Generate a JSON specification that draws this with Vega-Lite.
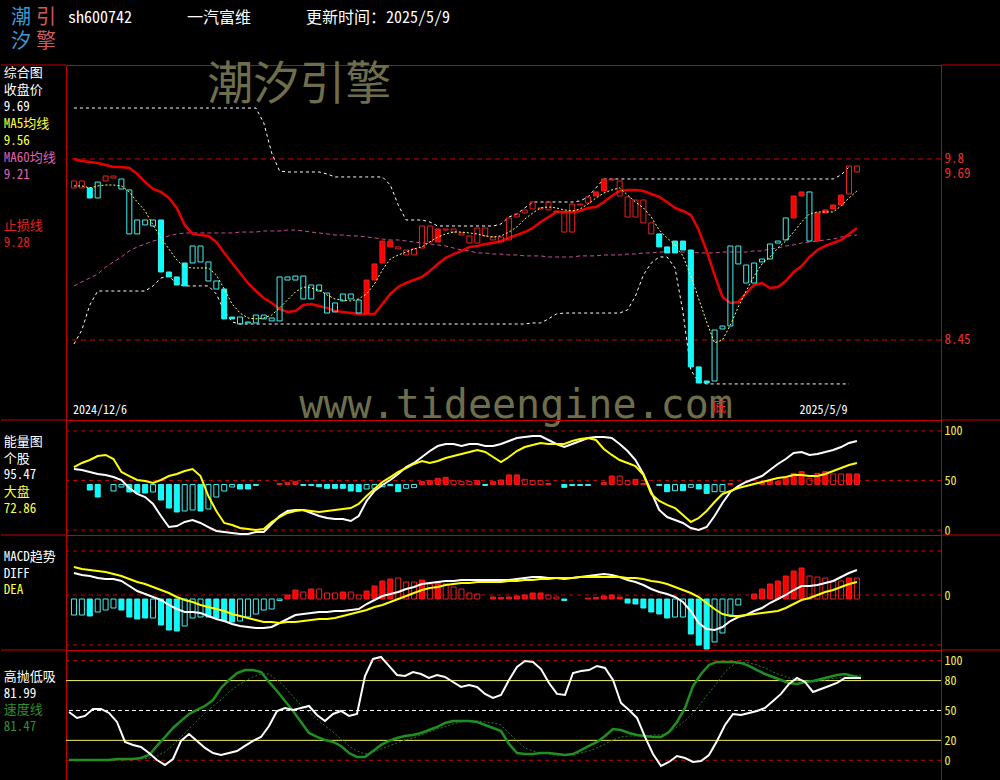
{
"$schema":"https://vega.github.io/schema/vega-lite/v6.json",
"background":"#000000",
"padding":0,
"spacing":0,
"bounds":"flush",
"columns":3,
"resolve":{"scale":{"x":"independent","y":"independent","color":"independent"}},
"config":{
 "view":{"stroke":"#c80000","strokeWidth":1},
 "axis":{"grid":false,"ticks":false,"domain":false,"labelFont":"Noto Sans Mono CJK SC, Noto Sans CJK SC, DejaVu Sans Mono","labelFontSize":13,"labelPadding":3,"labelExpr":"'' + datum.value","labelOverlap":false,"labelFlush":false,"labelBaseline":"middle","labelAlign":"left"},
 "text":{"font":"Noto Sans Mono CJK SC, Noto Sans CJK SC, DejaVu Sans Mono"},
 "concat":{"spacing":0}
},
"datasets":{
"head":[
 {"kind":"logo","t":"潮","col":"a","row":1},
 {"kind":"logo","t":"引","col":"b","row":1},
 {"kind":"logo","t":"汐","col":"a","row":2},
 {"kind":"logo","t":"擎","col":"b","row":2},
 {"kind":"info","t":"sh600742","col":"code","row":1},
 {"kind":"info","t":"一汽富维","col":"name","row":1},
 {"kind":"info","t":"更新时间：2025/5/9","col":"time","row":1}
],
"labels":[
 {"panel":1,"line":1,"t":"综合图","role":"head"},
 {"panel":1,"line":2,"t":"收盘价","role":"close"},
 {"panel":1,"line":3,"t":"9.69","role":"close"},
 {"panel":1,"line":4,"t":"MA5均线","role":"ma5"},
 {"panel":1,"line":5,"t":"9.56","role":"ma5"},
 {"panel":1,"line":6,"t":"MA60均线","role":"ma60"},
 {"panel":1,"line":7,"t":"9.21","role":"ma60"},
 {"panel":1,"line":10,"t":"止损线","role":"stop"},
 {"panel":1,"line":11,"t":"9.28","role":"stop"},
 {"panel":2,"line":1,"t":"能量图","role":"head"},
 {"panel":2,"line":2,"t":"个股","role":"stock"},
 {"panel":2,"line":3,"t":"95.47","role":"stock"},
 {"panel":2,"line":4,"t":"大盘","role":"market"},
 {"panel":2,"line":5,"t":"72.86","role":"market"},
 {"panel":3,"line":1,"t":"MACD趋势","role":"head"},
 {"panel":3,"line":2,"t":"DIFF","role":"diff"},
 {"panel":3,"line":3,"t":"DEA","role":"dea"},
 {"panel":4,"line":1,"t":"高抛低吸","role":"hl"},
 {"panel":4,"line":2,"t":"81.99","role":"hl"},
 {"panel":4,"line":3,"t":"速度线","role":"speed"},
 {"panel":4,"line":4,"t":"81.47","role":"speed"}
],
"k":[
{"i":0,"o":9.584,"c":9.636,"s":0,"m5":9.599,"m60":8.853,"st":9.8,"up":10.18,"dn":8.42,"ew":61.6,"ey":63.6,"ev":null,"es":0,"df":0.11,"de":0.14,"mv":-0.1,"ms":0,"hw":48.5,"hg":0.3,"hs":0.3},
{"i":1,"o":9.584,"c":9.636,"s":0,"m5":9.599,"m60":8.883,"st":9.785,"up":10.18,"dn":8.524,"ew":60.6,"ey":67.7,"ev":null,"es":0,"df":0.1,"de":0.13,"mv":-0.1,"ms":0,"hw":42.5,"hg":0.3,"hs":0.3},
{"i":2,"o":9.584,"c":9.509,"s":1,"m5":9.584,"m60":8.912,"st":9.778,"up":10.18,"dn":8.711,"ew":58.6,"ey":70.7,"ev":40.4,"es":1,"df":0.095,"de":0.125,"mv":-0.105,"ms":1,"hw":44.5,"hg":0.3,"hs":0.3},
{"i":3,"o":9.628,"c":9.509,"s":0,"m5":9.599,"m60":8.942,"st":9.77,"up":10.18,"dn":8.815,"ew":56.6,"ey":74.7,"ev":33.3,"es":1,"df":0.085,"de":0.12,"mv":-0.085,"ms":0,"hw":51.5,"hg":0.3,"hs":0.3},
{"i":4,"o":9.636,"c":9.673,"s":0,"m5":9.606,"m60":8.994,"st":9.755,"up":10.18,"dn":8.815,"ew":55.6,"ey":75.8,"ev":null,"es":0,"df":0.08,"de":0.115,"mv":-0.075,"ms":0,"hw":51.5,"hg":0.3,"hs":0.3},
{"i":5,"o":9.658,"c":9.673,"s":0,"m5":9.606,"m60":9.032,"st":9.74,"up":10.18,"dn":8.815,"ew":53.5,"ey":71.7,"ev":39.4,"es":0,"df":0.08,"de":0.105,"mv":-0.065,"ms":0,"hw":47.5,"hg":0.3,"hs":0.3},
{"i":6,"o":9.651,"c":9.576,"s":0,"m5":9.599,"m60":9.069,"st":9.74,"up":10.18,"dn":8.815,"ew":50.5,"ey":58.6,"ev":43.4,"es":0,"df":0.07,"de":0.095,"mv":-0.075,"ms":1,"hw":38.5,"hg":1.3,"hs":0.3},
{"i":7,"o":9.569,"c":9.241,"s":0,"m5":9.554,"m60":9.114,"st":9.733,"up":10.18,"dn":8.815,"ew":42.4,"ey":54.5,"ev":38.4,"es":1,"df":0.045,"de":0.08,"mv":-0.11,"ms":1,"hw":18.4,"hg":1.3,"hs":0.3},
{"i":8,"o":9.345,"c":9.241,"s":0,"m5":9.479,"m60":9.144,"st":9.688,"up":10.18,"dn":8.815,"ew":36.4,"ey":50.5,"ev":37.4,"es":1,"df":0.02,"de":0.065,"mv":-0.12,"ms":1,"hw":15.4,"hg":1.3,"hs":1.3},
{"i":9,"o":9.345,"c":9.308,"s":0,"m5":9.412,"m60":9.166,"st":9.628,"up":10.18,"dn":8.815,"ew":33.3,"ey":49.5,"ev":37.4,"es":1,"df":0.005,"de":0.055,"mv":-0.115,"ms":1,"hw":13.4,"hg":2.3,"hs":1.3},
{"i":10,"o":9.345,"c":9.3,"s":0,"m5":9.308,"m60":9.188,"st":9.576,"up":10.18,"dn":8.853,"ew":26.3,"ey":47.5,"ev":38.4,"es":0,"df":-0.01,"de":0.04,"mv":-0.115,"ms":0,"hw":7.3,"hg":5.3,"hs":2.3},
{"i":11,"o":9.345,"c":8.957,"s":1,"m5":9.211,"m60":9.203,"st":9.554,"up":10.18,"dn":8.912,"ew":14.1,"ey":50.5,"ev":30.3,"es":1,"df":-0.025,"de":0.025,"mv":-0.15,"ms":1,"hw":0.3,"hg":14.4,"hs":4.3},
{"i":12,"o":8.957,"c":8.92,"s":1,"m5":9.129,"m60":9.226,"st":9.509,"up":10.18,"dn":8.927,"ew":3.0,"ey":54.5,"ev":22.2,"es":1,"df":-0.05,"de":0.01,"mv":-0.175,"ms":1,"hw":-4.7,"hg":23.4,"hs":8.3},
{"i":13,"o":8.92,"c":8.86,"s":1,"m5":9.047,"m60":9.241,"st":9.435,"up":10.18,"dn":8.868,"ew":4.0,"ey":56.6,"ev":18.2,"es":1,"df":-0.07,"de":-0.01,"mv":-0.18,"ms":1,"hw":1.3,"hg":32.4,"hs":15.4},
{"i":14,"o":9.024,"c":8.853,"s":1,"m5":8.994,"m60":9.248,"st":9.308,"up":10.18,"dn":8.853,"ew":8.1,"ey":59.6,"ev":19.2,"es":0,"df":-0.085,"de":-0.025,"mv":-0.155,"ms":0,"hw":19.4,"hg":39.5,"hs":23.4},
{"i":15,"o":9.151,"c":9.024,"s":0,"m5":8.987,"m60":9.248,"st":9.241,"up":10.18,"dn":8.853,"ew":10.1,"ey":61.6,"ev":20.2,"es":0,"df":-0.085,"de":-0.035,"mv":-0.115,"ms":0,"hw":26.4,"hg":46.5,"hs":31.4},
{"i":16,"o":9.151,"c":9.032,"s":0,"m5":8.987,"m60":9.248,"st":9.233,"up":10.18,"dn":8.853,"ew":7.1,"ey":54.5,"ev":19.2,"es":1,"df":-0.09,"de":-0.05,"mv":-0.11,"ms":0,"hw":19.4,"hg":50.5,"hs":39.5},
{"i":17,"o":9.032,"c":8.89,"s":0,"m5":8.987,"m60":9.248,"st":9.226,"up":10.18,"dn":8.853,"ew":3.0,"ey":34.3,"ev":21.2,"es":0,"df":-0.105,"de":-0.06,"mv":-0.11,"ms":1,"hw":12.4,"hg":54.5,"hs":47.5},
{"i":18,"o":8.89,"c":8.83,"s":0,"m5":8.935,"m60":9.248,"st":9.181,"up":10.18,"dn":8.793,"ew":-1.0,"ey":19.2,"ev":33.3,"es":0,"df":-0.12,"de":-0.07,"mv":-0.115,"ms":1,"hw":7.3,"hg":60.5,"hs":54.5},
{"i":19,"o":8.83,"c":8.607,"s":1,"m5":8.83,"m60":9.248,"st":9.099,"up":10.18,"dn":8.666,"ew":-2.0,"ey":7.1,"ev":39.4,"es":0,"df":-0.13,"de":-0.08,"mv":-0.13,"ms":1,"hw":5.3,"hg":72.6,"hs":60.5},
{"i":20,"o":8.621,"c":8.607,"s":1,"m5":8.718,"m60":9.248,"st":9.024,"up":10.18,"dn":8.584,"ew":-3.0,"ey":5.1,"ev":43.4,"es":0,"df":-0.145,"de":-0.095,"mv":-0.135,"ms":1,"hw":7.3,"hg":80.6,"hs":68.6},
{"i":21,"o":8.621,"c":8.569,"s":0,"m5":8.651,"m60":9.255,"st":8.95,"up":10.18,"dn":8.569,"ew":-4.0,"ey":2.0,"ev":41.4,"es":1,"df":-0.155,"de":-0.105,"mv":-0.13,"ms":0,"hw":9.3,"hg":87.6,"hs":74.6},
{"i":22,"o":8.584,"c":8.577,"s":0,"m5":8.614,"m60":9.255,"st":8.875,"up":10.18,"dn":8.569,"ew":-4.0,"ey":1.0,"ev":41.4,"es":1,"df":-0.16,"de":-0.115,"mv":-0.11,"ms":0,"hw":14.4,"hg":90.6,"hs":79.6},
{"i":23,"o":8.636,"c":8.577,"s":0,"m5":8.607,"m60":9.255,"st":8.815,"up":10.18,"dn":8.569,"ew":-2.0,"ey":0,"ev":45,"es":1,"df":-0.165,"de":-0.125,"mv":-0.095,"ms":0,"hw":19.4,"hg":90.6,"hs":83.6},
{"i":24,"o":8.636,"c":8.607,"s":0,"m5":8.614,"m60":9.263,"st":8.763,"up":10.069,"dn":8.569,"ew":-2.0,"ey":1.0,"ev":null,"es":0,"df":-0.165,"de":-0.135,"mv":-0.075,"ms":0,"hw":23.4,"hg":88.6,"hs":86.6},
{"i":25,"o":8.614,"c":8.592,"s":0,"m5":8.636,"m60":9.263,"st":8.726,"up":9.845,"dn":8.569,"ew":6.1,"ey":8.1,"ev":null,"es":0,"df":-0.16,"de":-0.135,"mv":-0.07,"ms":0,"hw":34.4,"hg":78.6,"hs":86.6},
{"i":26,"o":8.92,"c":8.592,"s":0,"m5":8.689,"m60":9.263,"st":8.681,"up":9.71,"dn":8.569,"ew":14.1,"ey":13.1,"ev":47,"es":1,"df":-0.14,"de":-0.14,"mv":-0.028,"ms":0,"hw":49.5,"hg":69.6,"hs":80.6},
{"i":27,"o":8.92,"c":8.897,"s":0,"m5":8.748,"m60":9.27,"st":8.659,"up":9.703,"dn":8.569,"ew":19.2,"ey":17.2,"ev":47.8,"es":1,"df":-0.12,"de":-0.135,"mv":0.0,"ms":1,"hw":52.5,"hg":59.5,"hs":73.6},
{"i":28,"o":8.927,"c":8.897,"s":0,"m5":8.808,"m60":9.27,"st":8.666,"up":9.703,"dn":8.569,"ew":20.2,"ey":19.2,"ev":48.8,"es":1,"df":-0.1,"de":-0.135,"mv":0.025,"ms":1,"hw":50.5,"hg":49.5,"hs":63.6},
{"i":29,"o":8.927,"c":8.756,"s":0,"m5":8.845,"m60":9.263,"st":8.711,"up":9.703,"dn":8.569,"ew":20.2,"ey":20.2,"ev":45,"es":1,"df":-0.095,"de":-0.13,"mv":0.015,"ms":0,"hw":52.5,"hg":38.5,"hs":55.5},
{"i":30,"o":8.86,"c":8.756,"s":0,"m5":8.838,"m60":9.255,"st":8.718,"up":9.703,"dn":8.569,"ew":17.2,"ey":19.2,"ev":45,"es":1,"df":-0.09,"de":-0.125,"mv":0.03,"ms":1,"hw":54.5,"hg":27.4,"hs":48.5},
{"i":31,"o":8.86,"c":8.815,"s":0,"m5":8.823,"m60":9.248,"st":8.704,"up":9.703,"dn":8.569,"ew":14.1,"ey":18.2,"ev":43.7,"es":1,"df":-0.085,"de":-0.12,"mv":0.03,"ms":0,"hw":45.5,"hg":23.4,"hs":41.5},
{"i":32,"o":8.8,"c":8.651,"s":0,"m5":8.786,"m60":9.241,"st":8.689,"up":9.688,"dn":8.569,"ew":12.1,"ey":19.2,"ev":42.1,"es":1,"df":-0.085,"de":-0.12,"mv":0.01,"ms":0,"hw":39.5,"hg":20.4,"hs":34.4},
{"i":33,"o":8.726,"c":8.659,"s":0,"m5":8.756,"m60":9.233,"st":8.666,"up":9.666,"dn":8.569,"ew":11.1,"ey":20.2,"ev":42.1,"es":1,"df":-0.08,"de":-0.115,"mv":0.01,"ms":0,"hw":46.5,"hg":18.4,"hs":28.4},
{"i":34,"o":8.793,"c":8.741,"s":0,"m5":8.748,"m60":9.233,"st":8.659,"up":9.666,"dn":8.569,"ew":11.1,"ey":21.2,"ev":42.1,"es":1,"df":-0.08,"de":-0.105,"mv":0.015,"ms":1,"hw":49.5,"hg":14.4,"hs":21.4},
{"i":35,"o":8.793,"c":8.756,"s":0,"m5":8.741,"m60":9.226,"st":8.651,"up":9.666,"dn":8.569,"ew":9.1,"ey":22.2,"ev":39.4,"es":1,"df":-0.075,"de":-0.095,"mv":0.015,"ms":0,"hw":44.5,"hg":7.3,"hs":14.4},
{"i":36,"o":8.748,"c":8.651,"s":0,"m5":8.756,"m60":9.226,"st":8.644,"up":9.666,"dn":8.569,"ew":14.1,"ey":26.3,"ev":38.7,"es":1,"df":-0.07,"de":-0.085,"mv":0.0,"ms":0,"hw":46.5,"hg":3.3,"hs":9.3},
{"i":37,"o":8.651,"c":8.897,"s":1,"m5":8.793,"m60":9.218,"st":8.644,"up":9.666,"dn":8.569,"ew":29.3,"ey":34.3,"ev":41.4,"es":0,"df":-0.045,"de":-0.075,"mv":0.02,"ms":1,"hw":84.6,"hg":3.3,"hs":6.3},
{"i":38,"o":8.897,"c":9.017,"s":1,"m5":8.868,"m60":9.211,"st":8.644,"up":9.666,"dn":8.569,"ew":39.4,"ey":41.4,"ev":42.1,"es":0,"df":-0.025,"de":-0.06,"mv":0.045,"ms":1,"hw":101.7,"hg":9.3,"hs":8.3},
{"i":39,"o":9.024,"c":9.188,"s":1,"m5":8.972,"m60":9.203,"st":8.718,"up":9.666,"dn":8.569,"ew":45.5,"ey":48.5,"ev":43.7,"es":0,"df":-0.005,"de":-0.05,"mv":0.07,"ms":1,"hw":103.7,"hg":15.4,"hs":11.3},
{"i":40,"o":9.144,"c":9.188,"s":1,"m5":9.054,"m60":9.196,"st":8.793,"up":9.606,"dn":8.569,"ew":50.5,"ey":53.5,"ev":44.8,"es":1,"df":0.005,"de":-0.035,"mv":0.08,"ms":1,"hw":94.7,"hg":19.4,"hs":14.4},
{"i":41,"o":9.129,"c":9.144,"s":0,"m5":9.084,"m60":9.196,"st":8.845,"up":9.457,"dn":8.569,"ew":56.6,"ey":58.6,"ev":38.7,"es":1,"df":0.015,"de":-0.02,"mv":0.085,"ms":0,"hw":85.6,"hg":22.4,"hs":17.4},
{"i":42,"o":9.084,"c":9.121,"s":0,"m5":9.106,"m60":9.188,"st":8.875,"up":9.345,"dn":8.569,"ew":63.6,"ey":62.6,"ev":42.1,"es":0,"df":0.03,"de":-0.005,"mv":0.065,"ms":0,"hw":84.6,"hg":24.4,"hs":20.4},
{"i":43,"o":9.084,"c":9.129,"s":0,"m5":9.129,"m60":9.181,"st":8.897,"up":9.345,"dn":8.569,"ew":67.7,"ey":66.7,"ev":42.8,"es":0,"df":0.04,"de":0.01,"mv":0.065,"ms":0,"hw":88.6,"hg":25.4,"hs":22.4},
{"i":44,"o":9.136,"c":9.3,"s":0,"m5":9.144,"m60":9.173,"st":8.92,"up":9.345,"dn":8.569,"ew":73.7,"ey":69.7,"ev":48.8,"es":1,"df":0.055,"de":0.025,"mv":0.075,"ms":1,"hw":86.6,"hg":27.4,"hs":25.4},
{"i":45,"o":9.181,"c":9.3,"s":0,"m5":9.181,"m60":9.166,"st":8.965,"up":9.33,"dn":8.569,"ew":79.8,"ey":67.7,"ev":49.8,"es":1,"df":0.06,"de":0.035,"mv":0.055,"ms":0,"hw":82.6,"hg":30.4,"hs":28.4},
{"i":46,"o":9.181,"c":9.278,"s":1,"m5":9.218,"m60":9.159,"st":9.017,"up":9.3,"dn":8.569,"ew":84.8,"ey":69.7,"ev":52.2,"es":1,"df":0.065,"de":0.04,"mv":0.065,"ms":1,"hw":85.6,"hg":33.4,"hs":31.4},
{"i":47,"o":9.27,"c":9.278,"s":0,"m5":9.241,"m60":9.151,"st":9.062,"up":9.3,"dn":8.569,"ew":86.9,"ey":72.7,"ev":53.2,"es":1,"df":0.07,"de":0.05,"mv":0.055,"ms":0,"hw":83.6,"hg":37.5,"hs":33.4},
{"i":48,"o":9.255,"c":9.278,"s":0,"m5":9.255,"m60":9.136,"st":9.091,"up":9.3,"dn":8.569,"ew":86.9,"ey":74.7,"ev":49.8,"es":0,"df":0.07,"de":0.055,"mv":0.04,"ms":0,"hw":78.6,"hg":39.5,"hs":36.5},
{"i":49,"o":9.233,"c":9.248,"s":0,"m5":9.255,"m60":9.121,"st":9.114,"up":9.3,"dn":8.569,"ew":84.8,"ey":76.8,"ev":48.8,"es":0,"df":0.075,"de":0.06,"mv":0.03,"ms":0,"hw":73.6,"hg":39.5,"hs":38.5},
{"i":50,"o":9.173,"c":9.226,"s":0,"m5":9.248,"m60":9.114,"st":9.144,"up":9.3,"dn":8.569,"ew":86.9,"ey":78.8,"ev":48.8,"es":0,"df":0.075,"de":0.06,"mv":0.01,"ms":0,"hw":75.6,"hg":39.5,"hs":39.5},
{"i":51,"o":9.173,"c":9.285,"s":0,"m5":9.241,"m60":9.099,"st":9.151,"up":9.3,"dn":8.569,"ew":86.9,"ey":80.8,"ev":49.8,"es":1,"df":0.075,"de":0.065,"mv":0.005,"ms":0,"hw":73.6,"hg":38.5,"hs":39.5},
{"i":52,"o":9.226,"c":9.285,"s":0,"m5":9.226,"m60":9.099,"st":9.166,"up":9.3,"dn":8.569,"ew":84.8,"ey":78.8,"ev":45,"es":1,"df":0.075,"de":0.065,"mv":null,"ms":0,"hw":66.6,"hg":35.4,"hs":38.5},
{"i":53,"o":9.196,"c":9.218,"s":0,"m5":9.218,"m60":9.091,"st":9.173,"up":9.3,"dn":8.569,"ew":84.8,"ey":73.7,"ev":48.8,"es":1,"df":0.075,"de":0.065,"mv":-0.01,"ms":1,"hw":62.6,"hg":32.4,"hs":37.5},
{"i":54,"o":9.181,"c":9.218,"s":0,"m5":9.226,"m60":9.091,"st":9.188,"up":9.315,"dn":8.569,"ew":86.9,"ey":68.7,"ev":50.5,"es":1,"df":0.075,"de":0.065,"mv":-0.012,"ms":1,"hw":65.6,"hg":29.4,"hs":35.4},
{"i":55,"o":9.196,"c":9.36,"s":0,"m5":9.255,"m60":9.084,"st":9.211,"up":9.367,"dn":8.569,"ew":89.9,"ey":73.7,"ev":55.6,"es":1,"df":0.075,"de":0.07,"mv":-0.01,"ms":1,"hw":80.6,"hg":16.4,"hs":27.4},
{"i":56,"o":9.367,"c":9.39,"s":0,"m5":9.293,"m60":9.084,"st":9.233,"up":9.39,"dn":8.569,"ew":92.9,"ey":79.8,"ev":55.6,"es":1,"df":0.08,"de":0.07,"mv":-0.005,"ms":1,"hw":93.7,"hg":7.3,"hs":19.4},
{"i":57,"o":9.397,"c":9.42,"s":0,"m5":9.352,"m60":9.077,"st":9.255,"up":9.435,"dn":8.569,"ew":93.9,"ey":83.8,"ev":51.2,"es":0,"df":0.085,"de":0.075,"mv":0.0,"ms":1,"hw":99.7,"hg":6.3,"hs":12.4},
{"i":58,"o":9.427,"c":9.479,"s":0,"m5":9.397,"m60":9.077,"st":9.285,"up":9.479,"dn":8.577,"ew":94.9,"ey":85.9,"ev":49.8,"es":0,"df":0.09,"de":0.075,"mv":0.01,"ms":1,"hw":98.7,"hg":6.3,"hs":9.3},
{"i":59,"o":9.427,"c":9.435,"s":0,"m5":9.435,"m60":9.077,"st":9.33,"up":9.479,"dn":8.577,"ew":94.9,"ey":87.9,"ev":49.8,"es":0,"df":0.09,"de":0.08,"mv":0.01,"ms":1,"hw":91.6,"hg":7.3,"hs":7.3},
{"i":60,"o":9.42,"c":9.479,"s":0,"m5":9.442,"m60":9.069,"st":9.367,"up":9.479,"dn":8.607,"ew":90.9,"ey":86.9,"ev":47,"es":1,"df":0.085,"de":0.08,"mv":0.0,"ms":0,"hw":77.6,"hg":7.3,"hs":6.3},
{"i":61,"o":9.405,"c":9.412,"s":0,"m5":9.435,"m60":9.069,"st":9.405,"up":9.479,"dn":8.644,"ew":86.9,"ey":86.9,"ev":null,"es":0,"df":0.085,"de":0.085,"mv":-0.01,"ms":0,"hw":66.6,"hg":6.3,"hs":5.3},
{"i":62,"o":9.255,"c":9.405,"s":0,"m5":9.42,"m60":9.069,"st":9.405,"up":9.479,"dn":8.651,"ew":83.8,"ey":86.9,"ev":43.1,"es":1,"df":0.08,"de":0.085,"mv":-0.028,"ms":1,"hw":65.6,"hg":5.3,"hs":5.3},
{"i":63,"o":9.255,"c":9.464,"s":0,"m5":9.412,"m60":9.069,"st":9.405,"up":9.479,"dn":8.651,"ew":86.9,"ey":89.9,"ev":45,"es":1,"df":0.085,"de":0.085,"mv":null,"ms":0,"hw":87.6,"hg":6.3,"hs":6.3},
{"i":64,"o":9.457,"c":9.464,"s":0,"m5":9.427,"m60":9.077,"st":9.412,"up":9.487,"dn":8.651,"ew":89.9,"ey":91.9,"ev":45,"es":1,"df":0.09,"de":0.09,"mv":null,"ms":0,"hw":89.6,"hg":10.3,"hs":7.3},
{"i":65,"o":9.472,"c":9.517,"s":0,"m5":9.464,"m60":9.077,"st":9.435,"up":9.517,"dn":8.651,"ew":92.9,"ey":92.9,"ev":45,"es":1,"df":0.095,"de":0.09,"mv":-0.016,"ms":1,"hw":90.6,"hg":14.4,"hs":9.3},
{"i":66,"o":9.524,"c":9.554,"s":1,"m5":9.509,"m60":9.077,"st":9.442,"up":9.584,"dn":8.651,"ew":93.9,"ey":90.9,"ev":null,"es":0,"df":0.1,"de":0.09,"mv":-0.012,"ms":1,"hw":94.7,"hg":18.4,"hs":12.4},
{"i":67,"o":9.561,"c":9.651,"s":1,"m5":9.546,"m60":9.084,"st":9.479,"up":9.651,"dn":8.651,"ew":93.9,"ey":81.8,"ev":47.8,"es":1,"df":0.105,"de":0.09,"mv":-0.005,"ms":1,"hw":92.7,"hg":24.4,"hs":16.4},
{"i":68,"o":9.643,"c":9.651,"s":0,"m5":9.569,"m60":9.084,"st":9.524,"up":9.651,"dn":8.651,"ew":92.9,"ey":75.8,"ev":54.5,"es":1,"df":0.1,"de":0.09,"mv":0.0,"ms":1,"hw":80.6,"hg":31.4,"hs":20.4},
{"i":69,"o":9.524,"c":9.636,"s":0,"m5":9.584,"m60":9.084,"st":9.561,"up":9.651,"dn":8.651,"ew":86.9,"ey":70.7,"ev":54.5,"es":0,"df":0.09,"de":0.09,"mv":-0.01,"ms":1,"hw":57.5,"hg":30.4,"hs":23.4},
{"i":70,"o":9.367,"c":9.517,"s":0,"m5":9.531,"m60":9.091,"st":9.569,"up":9.651,"dn":8.674,"ew":79.8,"ey":67.7,"ev":49.8,"es":0,"df":0.075,"de":0.085,"mv":-0.04,"ms":1,"hw":50.5,"hg":27.4,"hs":24.4},
{"i":71,"o":9.367,"c":9.494,"s":0,"m5":9.479,"m60":9.091,"st":9.569,"up":9.651,"dn":8.778,"ew":70.7,"ey":64.6,"ev":51.2,"es":1,"df":0.065,"de":0.085,"mv":-0.045,"ms":1,"hw":42.5,"hg":25.4,"hs":24.4},
{"i":72,"o":9.323,"c":9.494,"s":0,"m5":9.435,"m60":9.099,"st":9.561,"up":9.651,"dn":8.935,"ew":56.6,"ey":55.6,"ev":47,"es":1,"df":0.05,"de":0.08,"mv":-0.065,"ms":1,"hw":23.4,"hg":24.4,"hs":24.4},
{"i":73,"o":9.241,"c":9.323,"s":0,"m5":9.367,"m60":9.099,"st":9.539,"up":9.651,"dn":9.024,"ew":38.4,"ey":36.4,"ev":null,"es":0,"df":0.03,"de":0.07,"mv":-0.085,"ms":1,"hw":6.3,"hg":23.4,"hs":25.4},
{"i":74,"o":9.241,"c":9.144,"s":1,"m5":9.27,"m60":9.106,"st":9.517,"up":9.651,"dn":9.069,"ew":20.2,"ey":29.3,"ev":45,"es":1,"df":0.015,"de":0.065,"mv":-0.095,"ms":1,"hw":-5.7,"hg":23.4,"hs":25.4},
{"i":75,"o":9.144,"c":9.099,"s":1,"m5":9.211,"m60":9.106,"st":9.479,"up":9.651,"dn":9.069,"ew":13.1,"ey":25.3,"ev":38.7,"es":1,"df":0.005,"de":0.055,"mv":-0.115,"ms":1,"hw":-1.7,"hg":28.4,"hs":28.4},
{"i":76,"o":9.188,"c":9.099,"s":1,"m5":9.159,"m60":9.106,"st":9.435,"up":9.651,"dn":8.987,"ew":10.1,"ey":22.2,"ev":39.7,"es":0,"df":-0.01,"de":0.04,"mv":-0.11,"ms":0,"hw":4.3,"hg":38.5,"hs":33.4},
{"i":77,"o":9.188,"c":9.121,"s":1,"m5":9.077,"m60":9.106,"st":9.412,"up":9.651,"dn":8.659,"ew":7.1,"ey":15.2,"ev":39.7,"es":1,"df":-0.035,"de":0.025,"mv":-0.11,"ms":0,"hw":2.3,"hg":52.5,"hs":39.5},
{"i":78,"o":9.121,"c":8.249,"s":1,"m5":8.927,"m60":9.106,"st":9.382,"up":9.651,"dn":8.226,"ew":2.0,"ey":8.1,"ev":43.1,"es":0,"df":-0.08,"de":0.01,"mv":-0.195,"ms":1,"hw":-1.7,"hg":74.6,"hs":47.5},
{"i":79,"o":8.249,"c":8.129,"s":1,"m5":8.756,"m60":9.099,"st":9.27,"up":9.651,"dn":8.137,"ew":0,"ey":12.1,"ev":41.4,"es":1,"df":-0.14,"de":-0.01,"mv":-0.25,"ms":1,"hw":-0.7,"hg":86.6,"hs":57.5},
{"i":80,"o":8.144,"c":8.129,"s":1,"m5":8.584,"m60":9.099,"st":9.114,"up":9.651,"dn":8.122,"ew":3.0,"ey":19.2,"ev":37.0,"es":1,"df":-0.17,"de":-0.04,"mv":-0.27,"ms":1,"hw":5.3,"hg":95.7,"hs":67.6},
{"i":81,"o":8.524,"c":8.144,"s":0,"m5":8.428,"m60":9.099,"st":8.935,"up":9.651,"dn":8.122,"ew":14.1,"ey":28.3,"ev":38.7,"es":0,"df":-0.175,"de":-0.07,"mv":-0.235,"ms":0,"hw":19.4,"hg":98.7,"hs":77.6},
{"i":82,"o":8.554,"c":8.532,"s":0,"m5":8.45,"m60":9.106,"st":8.771,"up":9.651,"dn":8.122,"ew":27.3,"ey":36.4,"ev":38.7,"es":0,"df":-0.16,"de":-0.095,"mv":-0.19,"ms":0,"hw":35.4,"hg":98.7,"hs":88.6},
{"i":83,"o":9.151,"c":8.554,"s":0,"m5":8.562,"m60":9.106,"st":8.726,"up":9.651,"dn":8.122,"ew":38.4,"ey":39.4,"ev":47,"es":1,"df":-0.13,"de":-0.105,"mv":-0.1,"ms":0,"hw":46.5,"hg":98.7,"hs":95.7},
{"i":84,"o":9.151,"c":9.017,"s":0,"m5":8.696,"m60":9.106,"st":8.733,"up":9.651,"dn":8.122,"ew":44.4,"ey":42.4,"ev":null,"es":0,"df":-0.11,"de":-0.105,"mv":-0.05,"ms":0,"hw":45.5,"hg":97.7,"hs":98.7},
{"i":85,"o":9.009,"c":8.875,"s":0,"m5":8.815,"m60":9.106,"st":8.8,"up":9.651,"dn":8.122,"ew":48.5,"ey":44.4,"ev":null,"es":0,"df":-0.1,"de":-0.1,"mv":null,"ms":0,"hw":47.5,"hg":94.7,"hs":97.7},
{"i":86,"o":9.024,"c":8.875,"s":0,"m5":8.927,"m60":9.114,"st":8.86,"up":9.651,"dn":8.122,"ew":51.5,"ey":46.5,"ev":null,"es":0,"df":-0.08,"de":-0.095,"mv":0.005,"ms":1,"hw":49.5,"hg":90.6,"hs":95.7},
{"i":87,"o":9.054,"c":9.032,"s":0,"m5":9.017,"m60":9.114,"st":8.875,"up":9.651,"dn":8.122,"ew":54.5,"ey":48.5,"ev":47.8,"es":1,"df":-0.065,"de":-0.09,"mv":0.03,"ms":1,"hw":52.5,"hg":86.6,"hs":92.7},
{"i":88,"o":9.166,"c":9.054,"s":0,"m5":9.069,"m60":9.129,"st":8.838,"up":9.651,"dn":8.122,"ew":60.6,"ey":50.5,"ev":49.5,"es":1,"df":-0.04,"de":-0.085,"mv":0.055,"ms":1,"hw":59.5,"hg":83.6,"hs":88.6},
{"i":89,"o":9.188,"c":9.173,"s":0,"m5":9.136,"m60":9.136,"st":8.845,"up":9.651,"dn":8.122,"ew":66.7,"ey":52.5,"ev":48.8,"es":1,"df":-0.02,"de":-0.08,"mv":0.07,"ms":1,"hw":66.6,"hg":80.6,"hs":85.6},
{"i":90,"o":9.36,"c":9.196,"s":0,"m5":9.188,"m60":9.151,"st":8.89,"up":9.651,"dn":8.122,"ew":71.7,"ey":53.5,"ev":52.2,"es":1,"df":0.0,"de":-0.065,"mv":0.095,"ms":1,"hw":76.6,"hg":77.6,"hs":82.6},
{"i":91,"o":9.36,"c":9.524,"s":1,"m5":9.255,"m60":9.159,"st":8.957,"up":9.651,"dn":8.122,"ew":77.8,"ey":55.6,"ev":57.2,"es":1,"df":0.025,"de":-0.045,"mv":0.12,"ms":1,"hw":82.6,"hg":76.6,"hs":80.6},
{"i":92,"o":9.524,"c":9.554,"s":1,"m5":9.33,"m60":9.173,"st":9.002,"up":9.651,"dn":8.122,"ew":78.8,"ey":55.6,"ev":58.9,"es":1,"df":0.045,"de":-0.025,"mv":0.135,"ms":1,"hw":78.6,"hg":78.6,"hs":79.6},
{"i":93,"o":9.554,"c":9.188,"s":0,"m5":9.39,"m60":9.181,"st":9.069,"up":9.651,"dn":8.122,"ew":75.8,"ey":54.5,"ev":52.2,"es":0,"df":0.045,"de":-0.015,"mv":0.095,"ms":0,"hw":68.6,"hg":79.6,"hs":78.6},
{"i":94,"o":9.188,"c":9.397,"s":1,"m5":9.405,"m60":9.188,"st":9.121,"up":9.651,"dn":8.122,"ew":76.8,"ey":54.5,"ev":57.2,"es":1,"df":0.05,"de":0.0,"mv":0.09,"ms":0,"hw":71.6,"hg":81.6,"hs":79.6},
{"i":95,"o":9.397,"c":9.42,"s":1,"m5":9.405,"m60":9.196,"st":9.151,"up":9.651,"dn":8.122,"ew":78.8,"ey":56.6,"ev":58.9,"es":1,"df":0.06,"de":0.015,"mv":0.085,"ms":0,"hw":74.6,"hg":83.6,"hs":81.6},
{"i":96,"o":9.427,"c":9.457,"s":1,"m5":9.405,"m60":9.203,"st":9.173,"up":9.651,"dn":8.122,"ew":80.8,"ey":59.6,"ev":56.6,"es":0,"df":0.07,"de":0.025,"mv":0.07,"ms":0,"hw":77.6,"hg":85.6,"hs":82.6},
{"i":97,"o":9.457,"c":9.531,"s":1,"m5":9.449,"m60":9.218,"st":9.196,"up":9.681,"dn":8.122,"ew":83.8,"ey":62.6,"ev":56.6,"es":0,"df":0.09,"de":0.04,"mv":0.07,"ms":0,"hw":82.6,"hg":86.6,"hs":83.6},
{"i":98,"o":9.539,"c":9.748,"s":0,"m5":9.509,"m60":9.226,"st":9.241,"up":9.74,"dn":8.122,"ew":87.9,"ey":65.7,"ev":56.6,"es":1,"df":0.11,"de":0.055,"mv":0.085,"ms":1,"hw":82.6,"hg":84.6,"hs":84.6},
{"i":99,"o":9.703,"c":9.748,"s":0,"m5":9.561,"m60":9.233,"st":9.285,"up":null,"dn":null,"ew":89.9,"ey":67.7,"ev":56.6,"es":1,"df":0.125,"de":0.065,"mv":0.085,"ms":0,"hw":82.6,"hg":82.6,"hs":85.6}
]
},
"concat":[
 {"width":65,"height":65,"view":{"stroke":null},"data":{"name":"head"},"transform":[{"filter":"datum.kind == 'logo'"}],
  "mark":{"type":"text","fontSize":20,"align":"center","baseline":"middle","font":"Noto Sans CJK SC"},
  "encoding":{
   "x":{"field":"col","type":"nominal","scale":{"type":"point","domain":["a","b"],"range":[20,45],"padding":0},"axis":null},
   "y":{"field":"row","type":"ordinal","scale":{"type":"point","domain":[1,2],"range":[18,42],"padding":0},"axis":null},
   "text":{"field":"t"},
   "color":{"condition":{"test":"datum.col == 'a'","value":"#3f98cf"},"value":"#d05a5a"}}},
 {"width":875,"height":65,"view":{"stroke":null},"data":{"name":"head"},"transform":[{"filter":"datum.kind == 'info'"}],
  "mark":{"type":"text","fontSize":16,"align":"left","baseline":"middle","color":"#ffffff"},
  "encoding":{
   "x":{"field":"col","type":"nominal","scale":{"type":"point","domain":["code","name","time"],"range":[2,240],"padding":0},"axis":null},
   "y":{"field":"row","type":"ordinal","scale":{"type":"point","domain":[1,2],"range":[18,41],"padding":0},"axis":null},
   "text":{"field":"t"}}},
 {"width":60,"height":65,"view":{"stroke":null},"data":{"values":[{}]},"mark":{"type":"text"},"encoding":{"text":{"value":""}}},

 {"width":65,"height":355,"view":{"stroke":null},
  "layer":[
   {"data":{"name":"labels"},"transform":[{"filter":"datum.panel == 1"}],
    "mark":{"type":"text","align":"left","baseline":"middle","fontSize":13},
    "encoding":{
     "x":{"datum":0,"type":"quantitative","scale":{"domain":[-0.046,1]},"axis":null},
     "y":{"field":"line","type":"quantitative","scale":{"domain":[0.529,21.41],"reverse":true},"axis":null},
     "text":{"field":"t"},
     "color":{"field":"role","type":"nominal","scale":{"domain":["head","close","ma5","ma60","stop","stock","market","diff","dea","hl","speed"],"range":["#ffffff","#ffffff","#ffff40","#e060b0","#e02020","#ffffff","#ffff40","#ffffff","#ffff40","#ffffff","#2e8f2e"]},"legend":null}}},
   {"data":{"values":[{}]},"mark":{"type":"rule","color":"#c80000","strokeWidth":1},
    "encoding":{"y":{"datum":0.529,"type":"quantitative","scale":{"domain":[0.529,21.41],"reverse":true},"axis":null}}}
  ]},
 {"width":875,"height":355,"data":{"name":"k"},
  "layer":[
   {"data":{"values":[{"t":"潮汐引擎"}]},
    "mark":{"type":"text","fontSize":46,"font":"Noto Sans CJK SC","color":"#6e6e4c","align":"center","baseline":"middle"},
    "encoding":{"x":{"datum":28.5,"type":"quantitative","scale":{"domain":[-0.375,109]},"axis":null},
     "y":{"datum":10.352,"type":"quantitative","scale":{"domain":[7.853,10.501]},"axis":{"orient":"right","values":[9.8,9.69,8.45],"title":null,"labelColor":"#e83030","labelFontSize":13}},
     "text":{"field":"t"}}},
   {"data":{"values":[{"t":"www.tideengine.com"}]},
    "mark":{"type":"text","fontSize":40,"font":"DejaVu Sans Mono","color":"#6e6e4c","align":"center","baseline":"alphabetic"},
    "encoding":{"x":{"datum":55.9,"type":"quantitative","scale":{"domain":[-0.375,109]},"axis":null},
     "y":{"datum":7.868,"type":"quantitative","scale":{"domain":[7.853,10.501]},"axis":{"orient":"right","values":[9.8,9.69,8.45],"title":null,"labelColor":"#e83030","labelFontSize":13}},
     "text":{"field":"t"}}},
   {"data":{"values":[{"lv":9.8},{"lv":8.45}]},
    "mark":{"type":"rule","color":"#d00000","strokeDash":[5,4],"strokeWidth":1},
    "encoding":{"y":{"field":"lv","type":"quantitative","scale":{"domain":[7.853,10.501]},"axis":{"orient":"right","values":[9.8,9.69,8.45],"title":null,"labelColor":"#e83030","labelFontSize":13}}}},
   {"mark":{"type":"line","color":"#ffffff","strokeDash":[3,3],"strokeWidth":1},
    "encoding":{"x":{"field":"i","type":"quantitative","scale":{"domain":[-0.375,109]},"axis":null},
     "y":{"field":"up","type":"quantitative","scale":{"domain":[7.853,10.501]},"axis":{"orient":"right","values":[9.8,9.69,8.45],"title":null,"labelColor":"#e83030","labelFontSize":13}}}},
   {"mark":{"type":"line","color":"#ffffff","strokeDash":[3,3],"strokeWidth":1},
    "encoding":{"x":{"field":"i","type":"quantitative","scale":{"domain":[-0.375,109]},"axis":null},
     "y":{"field":"dn","type":"quantitative","scale":{"domain":[7.853,10.501]},"axis":{"orient":"right","values":[9.8,9.69,8.45],"title":null,"labelColor":"#e83030","labelFontSize":13}}}},
   {"mark":{"type":"line","color":"#c8509a","strokeDash":[4,3],"strokeWidth":1},
    "encoding":{"x":{"field":"i","type":"quantitative","scale":{"domain":[-0.375,109]},"axis":null},
     "y":{"field":"m60","type":"quantitative","scale":{"domain":[7.853,10.501]},"axis":{"orient":"right","values":[9.8,9.69,8.45],"title":null,"labelColor":"#e83030","labelFontSize":13}}}},
   {"mark":{"type":"line","color":"#e80000","strokeWidth":2.5},
    "encoding":{"x":{"field":"i","type":"quantitative","scale":{"domain":[-0.375,109]},"axis":null},
     "y":{"field":"st","type":"quantitative","scale":{"domain":[7.853,10.501]},"axis":{"orient":"right","values":[9.8,9.69,8.45],"title":null,"labelColor":"#e83030","labelFontSize":13}}}},
   {"mark":{"type":"bar","size":5,"strokeWidth":1},
    "encoding":{"x":{"field":"i","type":"quantitative","scale":{"domain":[-0.375,109]},"axis":null},
     "y":{"field":"o","type":"quantitative","scale":{"domain":[7.853,10.501]},"axis":{"orient":"right","values":[9.8,9.69,8.45],"title":null,"labelColor":"#e83030","labelFontSize":13}},
     "y2":{"field":"c"},
     "stroke":{"condition":{"test":"datum.c > datum.o","value":"#e82020"},"value":"#40f0f0"},
     "fill":{"condition":[{"test":"!datum.s","value":"transparent"},{"test":"datum.c > datum.o","value":"#ff0000"}],"value":"#00ffff"}}},
   {"mark":{"type":"line","color":"#ffff66","strokeDash":[2,2],"strokeWidth":1},
    "encoding":{"x":{"field":"i","type":"quantitative","scale":{"domain":[-0.375,109]},"axis":null},
     "y":{"field":"m5","type":"quantitative","scale":{"domain":[7.853,10.501]},"axis":{"orient":"right","values":[9.8,9.69,8.45],"title":null,"labelColor":"#e83030","labelFontSize":13}}}},
   {"data":{"values":[{"t":"2024/12/6"}]},
    "mark":{"type":"text","fontSize":12,"color":"#ffffff","align":"left","baseline":"middle"},
    "encoding":{"x":{"datum":-0.125,"type":"quantitative","scale":{"domain":[-0.375,109]},"axis":null},
     "y":{"datum":7.928,"type":"quantitative","scale":{"domain":[7.853,10.501]},"axis":{"orient":"right","values":[9.8,9.69,8.45],"title":null,"labelColor":"#e83030","labelFontSize":13}},
     "text":{"field":"t"}}},
   {"data":{"values":[{"t":"2025/5/9"}]},
    "mark":{"type":"text","fontSize":12,"color":"#ffffff","align":"left","baseline":"middle"},
    "encoding":{"x":{"datum":91.75,"type":"quantitative","scale":{"domain":[-0.375,109]},"axis":null},
     "y":{"datum":7.928,"type":"quantitative","scale":{"domain":[7.853,10.501]},"axis":{"orient":"right","values":[9.8,9.69,8.45],"title":null,"labelColor":"#e83030","labelFontSize":13}},
     "text":{"field":"t"}}},
   {"data":{"values":[{"t":"底"}]},
    "mark":{"type":"text","fontSize":14,"color":"#ff2020","align":"center","baseline":"middle","font":"Noto Sans CJK SC"},
    "encoding":{"x":{"datum":81.6,"type":"quantitative","scale":{"domain":[-0.375,109]},"axis":null},
     "y":{"datum":7.95,"type":"quantitative","scale":{"domain":[7.853,10.501]},"axis":{"orient":"right","values":[9.8,9.69,8.45],"title":null,"labelColor":"#e83030","labelFontSize":13}},
     "text":{"field":"t"}}}
  ]},
 {"width":60,"height":355,"view":{"stroke":null},"data":{"values":[{}]},"mark":{"type":"rule","color":"#c80000","strokeWidth":1},
  "encoding":{"y":{"datum":1,"type":"quantitative","scale":{"domain":[0,1]},"axis":null}}},

 {"width":65,"height":115,"view":{"stroke":null},
  "layer":[
   {"data":{"name":"labels"},"transform":[{"filter":"datum.panel == 2"}],
    "mark":{"type":"text","align":"left","baseline":"middle","fontSize":13},
    "encoding":{
     "x":{"datum":0,"type":"quantitative","scale":{"domain":[-0.046,1]},"axis":null},
     "y":{"field":"line","type":"quantitative","scale":{"domain":[-0.313,6.552],"reverse":true},"axis":null},
     "text":{"field":"t"},
     "color":{"field":"role","type":"nominal","scale":{"domain":["head","close","ma5","ma60","stop","stock","market","diff","dea","hl","speed"],"range":["#ffffff","#ffffff","#ffff40","#e060b0","#e02020","#ffffff","#ffff40","#ffffff","#ffff40","#ffffff","#2e8f2e"]},"legend":null}}},
   {"data":{"values":[{}]},"mark":{"type":"rule","color":"#c80000","strokeWidth":1},
    "encoding":{"y":{"datum":-0.313,"type":"quantitative","scale":{"domain":[-0.313,6.552],"reverse":true},"axis":null}}}
  ]},
 {"width":875,"height":115,"data":{"name":"k"},
  "layer":[
   {"data":{"values":[{"lv":100},{"lv":50},{"lv":0}]},
    "mark":{"type":"rule","color":"#c80000","strokeDash":[4,4],"strokeWidth":1},
    "encoding":{"y":{"field":"lv","type":"quantitative","scale":{"domain":[-5.05,111.1]},"axis":{"orient":"right","values":[100,50,0],"title":null,"labelColor":"#f0f050","labelFontSize":12}}}},
   {"transform":[{"filter":"isValid(datum.ev)"}],
    "mark":{"type":"bar","size":5,"strokeWidth":1},
    "encoding":{"x":{"field":"i","type":"quantitative","scale":{"domain":[-0.375,109]},"axis":null},
     "y":{"field":"ev","type":"quantitative","scale":{"domain":[-5.05,111.1]},"axis":{"orient":"right","values":[100,50,0],"title":null,"labelColor":"#f0f050","labelFontSize":12}},
     "y2":{"datum":46},
     "stroke":{"condition":{"test":"datum.ev > 46","value":"#e82020"},"value":"#40f0f0"},
     "fill":{"condition":[{"test":"!datum.es","value":"transparent"},{"test":"datum.ev > 46","value":"#ff0000"}],"value":"#00ffff"}}},
   {"mark":{"type":"line","color":"#ffffff","strokeWidth":2},
    "encoding":{"x":{"field":"i","type":"quantitative","scale":{"domain":[-0.375,109]},"axis":null},
     "y":{"field":"ew","type":"quantitative","scale":{"domain":[-5.05,111.1]},"axis":{"orient":"right","values":[100,50,0],"title":null,"labelColor":"#f0f050","labelFontSize":12}}}},
   {"mark":{"type":"line","color":"#ffff00","strokeWidth":2},
    "encoding":{"x":{"field":"i","type":"quantitative","scale":{"domain":[-0.375,109]},"axis":null},
     "y":{"field":"ey","type":"quantitative","scale":{"domain":[-5.05,111.1]},"axis":{"orient":"right","values":[100,50,0],"title":null,"labelColor":"#f0f050","labelFontSize":12}}}}
  ]},
 {"width":60,"height":115,"view":{"stroke":null},"data":{"values":[{}]},"mark":{"type":"rule","color":"#c80000","strokeWidth":1},
  "encoding":{"y":{"datum":1,"type":"quantitative","scale":{"domain":[0,1]},"axis":null}}},

 {"width":65,"height":115,"view":{"stroke":null},
  "layer":[
   {"data":{"name":"labels"},"transform":[{"filter":"datum.panel == 3"}],
    "mark":{"type":"text","align":"left","baseline":"middle","fontSize":13},
    "encoding":{
     "x":{"datum":0,"type":"quantitative","scale":{"domain":[-0.046,1]},"axis":null},
     "y":{"field":"line","type":"quantitative","scale":{"domain":[-0.313,6.552],"reverse":true},"axis":null},
     "text":{"field":"t"},
     "color":{"field":"role","type":"nominal","scale":{"domain":["head","close","ma5","ma60","stop","stock","market","diff","dea","hl","speed"],"range":["#ffffff","#ffffff","#ffff40","#e060b0","#e02020","#ffffff","#ffff40","#ffffff","#ffff40","#ffffff","#2e8f2e"]},"legend":null}}},
   {"data":{"values":[{}]},"mark":{"type":"rule","color":"#c80000","strokeWidth":1},
    "encoding":{"y":{"datum":-0.313,"type":"quantitative","scale":{"domain":[-0.313,6.552],"reverse":true},"axis":null}}}
  ]},
 {"width":875,"height":115,"data":{"name":"k"},
  "layer":[
   {"data":{"values":[{"lv":0.22},{"lv":0},{"lv":-0.25}]},
    "mark":{"type":"rule","color":"#c80000","strokeDash":[4,4],"strokeWidth":1},
    "encoding":{"y":{"field":"lv","type":"quantitative","scale":{"domain":[-0.275,0.3]},"axis":{"orient":"right","values":[0],"title":null,"labelColor":"#f0f050","labelFontSize":12}}}},
   {"transform":[{"filter":"isValid(datum.mv)"}],
    "mark":{"type":"bar","size":5,"strokeWidth":1},
    "encoding":{"x":{"field":"i","type":"quantitative","scale":{"domain":[-0.375,109]},"axis":null},
     "y":{"field":"mv","type":"quantitative","scale":{"domain":[-0.275,0.3]},"axis":{"orient":"right","values":[0],"title":null,"labelColor":"#f0f050","labelFontSize":12}},
     "y2":{"datum":-0.02},
     "stroke":{"condition":{"test":"datum.mv > -0.02","value":"#e82020"},"value":"#40f0f0"},
     "fill":{"condition":[{"test":"!datum.ms","value":"transparent"},{"test":"datum.mv > -0.02","value":"#ff0000"}],"value":"#00ffff"}}},
   {"mark":{"type":"line","color":"#ffffff","strokeWidth":2},
    "encoding":{"x":{"field":"i","type":"quantitative","scale":{"domain":[-0.375,109]},"axis":null},
     "y":{"field":"df","type":"quantitative","scale":{"domain":[-0.275,0.3]},"axis":{"orient":"right","values":[0],"title":null,"labelColor":"#f0f050","labelFontSize":12}}}},
   {"mark":{"type":"line","color":"#ffff00","strokeWidth":2},
    "encoding":{"x":{"field":"i","type":"quantitative","scale":{"domain":[-0.375,109]},"axis":null},
     "y":{"field":"de","type":"quantitative","scale":{"domain":[-0.275,0.3]},"axis":{"orient":"right","values":[0],"title":null,"labelColor":"#f0f050","labelFontSize":12}}}}
  ]},
 {"width":60,"height":115,"view":{"stroke":null},"data":{"values":[{}]},"mark":{"type":"rule","color":"#c80000","strokeWidth":1},
  "encoding":{"y":{"datum":1,"type":"quantitative","scale":{"domain":[0,1]},"axis":null}}},

 {"width":65,"height":130,"view":{"stroke":null},
  "layer":[
   {"data":{"name":"labels"},"transform":[{"filter":"datum.panel == 4"}],
    "mark":{"type":"text","align":"left","baseline":"middle","fontSize":13},
    "encoding":{
     "x":{"datum":0,"type":"quantitative","scale":{"domain":[-0.046,1]},"axis":null},
     "y":{"field":"line","type":"quantitative","scale":{"domain":[-0.617,7.168],"reverse":true},"axis":null},
     "text":{"field":"t"},
     "color":{"field":"role","type":"nominal","scale":{"domain":["head","close","ma5","ma60","stop","stock","market","diff","dea","hl","speed"],"range":["#ffffff","#ffffff","#ffff40","#e060b0","#e02020","#ffffff","#ffff40","#ffffff","#ffff40","#ffffff","#2e8f2e"]},"legend":null}}},
   {"data":{"values":[{}]},"mark":{"type":"rule","color":"#c80000","strokeWidth":1},
    "encoding":{"y":{"datum":-0.617,"type":"quantitative","scale":{"domain":[-0.617,7.168],"reverse":true},"axis":null}}}
  ]},
 {"width":875,"height":130,"data":{"name":"k"},
  "layer":[
   {"data":{"values":[{"lv":100},{"lv":0}]},
    "mark":{"type":"rule","color":"#c80000","strokeDash":[4,4],"strokeWidth":1},
    "encoding":{"y":{"field":"lv","type":"quantitative","scale":{"domain":[-19.8,110.7]},"axis":{"orient":"right","values":[100,80,50,20,0],"title":null,"labelColor":"#f0f050","labelFontSize":12}}}},
   {"data":{"values":[{"lv":80},{"lv":20}]},
    "mark":{"type":"rule","color":"#f0f060","strokeWidth":1},
    "encoding":{"y":{"field":"lv","type":"quantitative","scale":{"domain":[-19.8,110.7]},"axis":{"orient":"right","values":[100,80,50,20,0],"title":null,"labelColor":"#f0f050","labelFontSize":12}}}},
   {"data":{"values":[{"lv":50}]},
    "mark":{"type":"rule","color":"#ffffff","strokeDash":[4,3],"strokeWidth":1},
    "encoding":{"y":{"field":"lv","type":"quantitative","scale":{"domain":[-19.8,110.7]},"axis":{"orient":"right","values":[100,80,50,20,0],"title":null,"labelColor":"#f0f050","labelFontSize":12}}}},
   {"mark":{"type":"line","color":"#2a7a2a","strokeDash":[2,2],"strokeWidth":1},
    "encoding":{"x":{"field":"i","type":"quantitative","scale":{"domain":[-0.375,109]},"axis":null},
     "y":{"field":"hs","type":"quantitative","scale":{"domain":[-19.8,110.7]},"axis":{"orient":"right","values":[100,80,50,20,0],"title":null,"labelColor":"#f0f050","labelFontSize":12}}}},
   {"mark":{"type":"line","color":"#1f8f1f","strokeWidth":2.5},
    "encoding":{"x":{"field":"i","type":"quantitative","scale":{"domain":[-0.375,109]},"axis":null},
     "y":{"field":"hg","type":"quantitative","scale":{"domain":[-19.8,110.7]},"axis":{"orient":"right","values":[100,80,50,20,0],"title":null,"labelColor":"#f0f050","labelFontSize":12}}}},
   {"mark":{"type":"line","color":"#ffffff","strokeWidth":2},
    "encoding":{"x":{"field":"i","type":"quantitative","scale":{"domain":[-0.375,109]},"axis":null},
     "y":{"field":"hw","type":"quantitative","scale":{"domain":[-19.8,110.7]},"axis":{"orient":"right","values":[100,80,50,20,0],"title":null,"labelColor":"#f0f050","labelFontSize":12}}}}
  ]},
 {"width":60,"height":130,"view":{"stroke":null},"data":{"values":[{}]},"mark":{"type":"rule","color":"#c80000","strokeWidth":1},
  "encoding":{"y":{"datum":1,"type":"quantitative","scale":{"domain":[0,1]},"axis":null}}}
]
}
